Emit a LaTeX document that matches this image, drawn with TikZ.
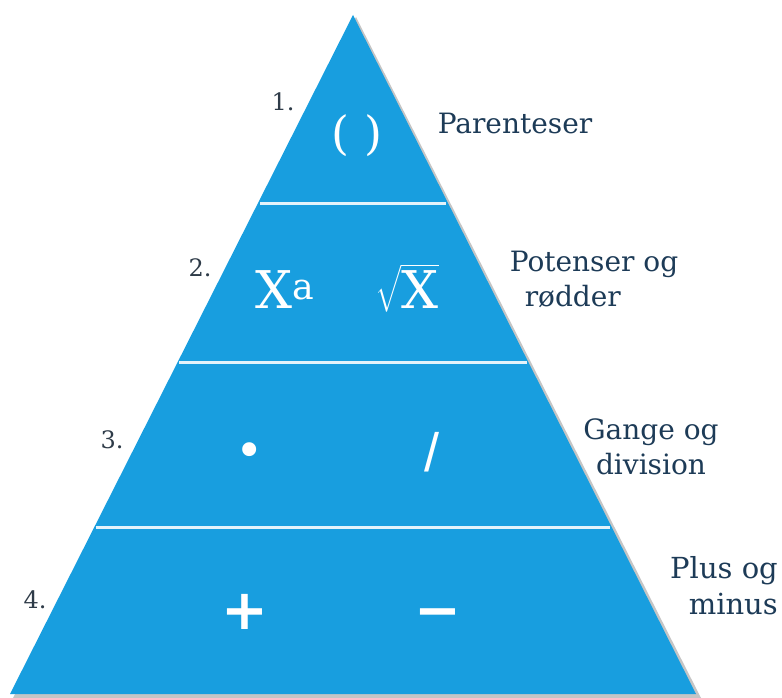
\documentclass[tikz,border=0pt]{standalone}
\usepackage{fontspec}
\setmainfont{DejaVu Serif}
\newfontfamily\symfont{DejaVu Sans}
\newfontfamily\slashfont{Liberation Sans}
\usetikzlibrary{calc}
\definecolor{pyrblue}{HTML}{189EDF}
\definecolor{labelnavy}{HTML}{1D3B57}
\definecolor{numgray}{HTML}{2E3B48}
\begin{document}
\begin{tikzpicture}[x=1pt,y=-1pt,
  steplabel/.style={text=labelnavy,font=\fontsize{28}{35}\selectfont,align=center,inner sep=0pt},
  stepnum/.style={text=numgray,font=\fontsize{24}{28}\selectfont,inner sep=0pt},
  opsym/.style={text=white,inner sep=0pt},
  divider/.style={white!88!pyrblue,line width=3pt,shorten <=2pt,shorten >=2pt}]
\fill[white] (0,0) rectangle (782,698);
\useasboundingbox (0,0) rectangle (782,698);
\coordinate (apex) at (353,15);
\coordinate (baseL) at (10,694);
\coordinate (baseR) at (696,694);
% soft shadow first, then the pyramid and its four bands
\fill[black!45,opacity=0.5] ($(apex)+(3,2)$) -- ($(baseL)+(3,4)$) -- ($(baseR)+(5,4)$) -- cycle;
\fill[pyrblue] (apex) -- (baseL) -- (baseR) -- cycle;
\foreach \t in {0.2769,0.5125,0.7555}
  \draw[divider] ($(apex)!\t!(baseL)$) -- ($(apex)!\t!(baseR)$);
\node[stepnum] (n1) at (283,102) {1.};
\node[stepnum] (n2) at (200,268) {2.};
\node[stepnum] (n3) at (112,440) {3.};
\node[stepnum] (n4) at (35,600) {4.};
\node[opsym,font=\fontsize{46}{46}\selectfont] (paren) at (357,136) {( )};
\node[opsym,font=\fontsize{52}{52}\selectfont] (power) at (285,290) {X\textsuperscript{a}};
\node[opsym] (root) at (407,288) {\scalebox{2.6}{$\sqrt{\mbox{\fontsize{20}{20}\selectfont X}}$}};
\node[opsym,font=\symfont\fontsize{48}{48}\selectfont] (times) at (250,455) {•};
\node[opsym,font=\slashfont\fontsize{54}{54}\selectfont] (divide) at (432,452) {/};
\node[opsym,font=\symfont\bfseries\fontsize{56}{56}\selectfont] (plus) at (245,612) {+};
\node[opsym,font=\symfont\bfseries\fontsize{56}{56}\selectfont] (minus) at (438,619) {−};
\node[steplabel] (l1) at (515,123) {Parenteser};
\node[steplabel,align=left] (l2) at (594,279) {Potenser og\\\hspace*{15pt}rødder};
\node[steplabel] (l3) at (651,447) {Gange og\\division};
\node[steplabel,align=right,anchor=east,font=\fontsize{29}{36}\selectfont] (l4) at (778,586) {Plus og\\minus};
\end{tikzpicture}
\end{document}
